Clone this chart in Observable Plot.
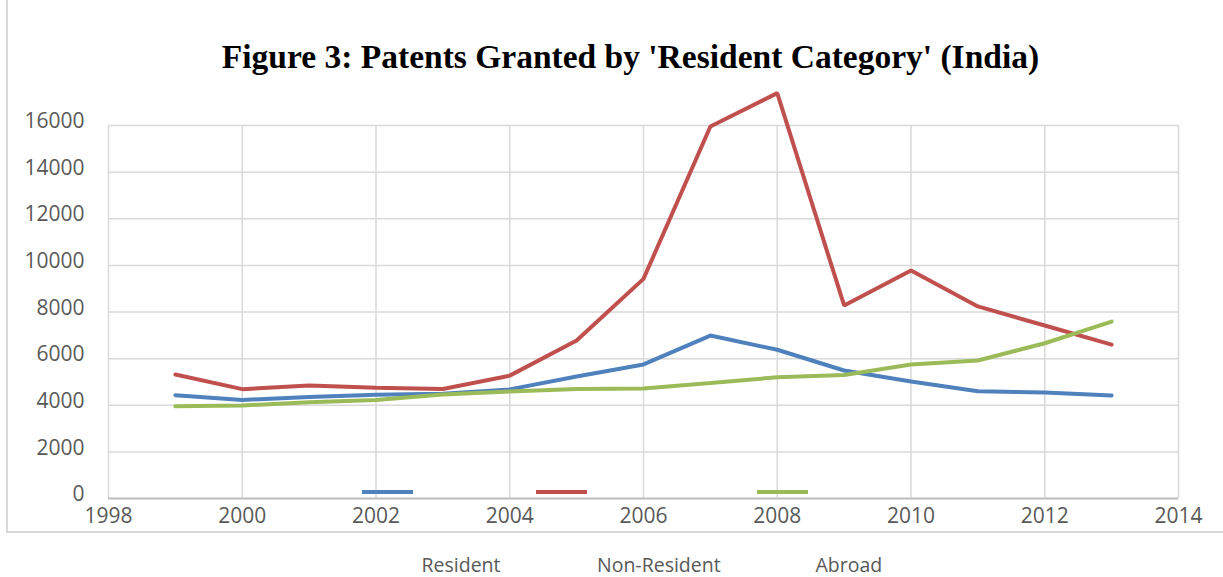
<!DOCTYPE html>
<html>
<head>
<meta charset="utf-8">
<script src="https://cdn.jsdelivr.net/npm/d3@7"></script>
<script src="https://cdn.jsdelivr.net/npm/@observablehq/plot@0.6"></script>
<style>
  body { margin: 0; background: #fff; overflow: hidden; }
  #wrap { position: relative; width: 1223px; height: 577px; overflow: hidden; background: #fff; }
  #frame { position: absolute; left: 6px; top: -10px; width: 1300px; height: 543px; border: 2px solid #d9d9d9; box-sizing: border-box; }
  #title { position: absolute; left: 0; width: 1261px; top: 38px; text-align: center;
           font-family: "Liberation Serif", serif; font-weight: bold; font-size: 33.5px; color: #000; white-space: nowrap; }
  #chart { position: absolute; left: 0; top: 0; }
  .swatch { position: absolute; height: 4px; width: 51px; top: 490px; }
  .lab { position: absolute; top: 555px; line-height: 20px; font-family: "Open Sans", sans-serif; font-size: 19.5px; color: #595959; white-space: nowrap; }
</style>
</head>
<body>
<div id="wrap">
  <div id="frame"></div>
  <div id="chart"></div>
  <div id="title">Figure 3: Patents Granted by 'Resident Category' (India)</div>
</div>
<script>
// Patents granted in India, by applicant's resident category
const years = [1999, 2000, 2001, 2002, 2003, 2004, 2005, 2006, 2007, 2008, 2009, 2010, 2011, 2012, 2013];
const resident    = [4430, 4230, 4350, 4450, 4490, 4680, 5230, 5750, 6990, 6380, 5490, 5020, 4600, 4550, 4420];
const nonResident = [5320, 4690, 4850, 4750, 4700, 5270, 6780, 9420, 15960, 17390, 8280, 9780, 8240, 7420, 6600];
const abroad      = [3960, 3990, 4130, 4230, 4460, 4590, 4700, 4720, 4950, 5200, 5300, 5750, 5920, 6660, 7590];

const seriesNames  = ["Resident", "Non-Resident", "Abroad"];
const seriesColors = ["#4f81bd", "#c0504d", "#9bbb59"];
const xTicks = [1998, 2000, 2002, 2004, 2006, 2008, 2010, 2012, 2014];
const yTicks = [0, 2000, 4000, 6000, 8000, 10000, 12000, 14000, 16000];

// long-format rows for the line mark
const seriesValues = [resident, nonResident, abroad];
const rows = seriesNames.flatMap((name, i) =>
  years.map((year, j) => ({ year, value: seriesValues[i][j], series: name }))
);

const chart = Plot.plot({
  width: 1223,
  height: 577,
  marginLeft: 108,
  marginRight: 45,
  marginTop: 125,
  marginBottom: 79,
  style: { fontFamily: "Open Sans, sans-serif", fontSize: "21px", color: "#595959", background: "transparent" },
  x: { domain: [1998, 2014], label: null },
  y: { domain: [0, 16000], label: null },
  color: { domain: seriesNames, range: seriesColors },
  marks: [
    Plot.gridX(xTicks, { stroke: "#d9d9d9", strokeOpacity: 1, strokeWidth: 1.5 }),
    Plot.gridY(yTicks, { stroke: "#d9d9d9", strokeOpacity: 1, strokeWidth: 1.5 }),
    Plot.ruleY([0], { stroke: "#bfbfbf", strokeWidth: 2 }),
    Plot.axisX(xTicks, { tickSize: 0, tickPadding: 10, tickFormat: d => String(d), fill: "#595959", fontSize: 21 }),
    Plot.axisY(yTicks, { tickSize: 0, tickPadding: 24, tickFormat: d => String(d), fill: "#595959", fontSize: 21, dy: -4 }),
    Plot.lineY(rows, { x: "year", y: "value", stroke: "series", z: "series", strokeWidth: 4, strokeLinejoin: "miter" })
  ]
});
document.getElementById("chart").appendChild(chart);

// legend: coloured strokes sit just above the axis, names below the frame
const wrap = document.getElementById("wrap");
const swatchLeft = [362, 536, 757];
const labelCenter = [461, 659, 849];
seriesNames.forEach((name, i) => {
  const sw = document.createElement("div");
  sw.className = "swatch";
  sw.style.left = swatchLeft[i] + "px";
  sw.style.background = seriesColors[i];
  wrap.appendChild(sw);
  const lb = document.createElement("div");
  lb.className = "lab";
  lb.textContent = name;
  wrap.appendChild(lb);
  lb.style.left = (labelCenter[i] - lb.offsetWidth / 2) + "px";
});
</script>
</body>
</html>
